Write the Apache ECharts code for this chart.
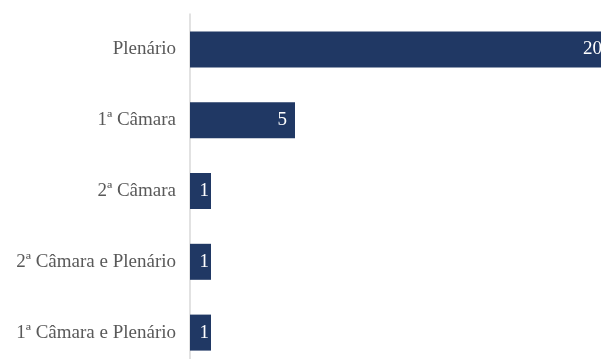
<!DOCTYPE html>
<html>
<head>
<meta charset="utf-8">
<script src="https://cdn.jsdelivr.net/npm/echarts@6/dist/echarts.min.js"></script>
<style>
  html, body { margin: 0; padding: 0; background: #fff; }
  #chart { width: 601px; height: 359px; }
</style>
</head>
<body>
<div id="chart"></div>
<script>
// Decision counts by deciding body
const categories = ['Plenário', '1ª Câmara', '2ª Câmara', '2ª Câmara e Plenário', '1ª Câmara e Plenário'];
const counts = [20, 5, 1, 1, 1];

const chart = echarts.init(document.getElementById('chart'), null, { renderer: 'canvas' });

// Narrow bars keep their value label nearly centred; wider ones pad it from the end
const barData = counts.map(v => ({
  value: v,
  label: { distance: v < 2 ? 2 : 8 }
}));

// The plot area runs slightly past the canvas edges on the right and bottom
chart.setOption({
  animation: false,
  grid: {
    left: 190, top: 14, width: 420, height: 354,
    containLabel: false,
    outerBoundsMode: 'none'
  },
  xAxis: {
    type: 'value',
    min: 0,
    max: 20,
    show: false
  },
  yAxis: {
    type: 'category',
    data: categories,
    inverse: true,
    axisLine: { show: true, lineStyle: { color: '#d9d9d9', width: 1.5 } },
    axisTick: { show: false },
    axisLabel: {
      margin: 14,
      color: '#595959',
      fontFamily: '"Liberation Serif", "Times New Roman", serif',
      fontSize: 19
    }
  },
  series: [{
    type: 'bar',
    data: barData,
    barWidth: 36,
    clip: false,
    itemStyle: { color: '#203864' },
    label: {
      show: true,
      position: 'insideRight',
      color: '#ffffff',
      fontFamily: '"Liberation Serif", "Times New Roman", serif',
      fontSize: 19
    }
  }]
});
</script>
</body>
</html>
